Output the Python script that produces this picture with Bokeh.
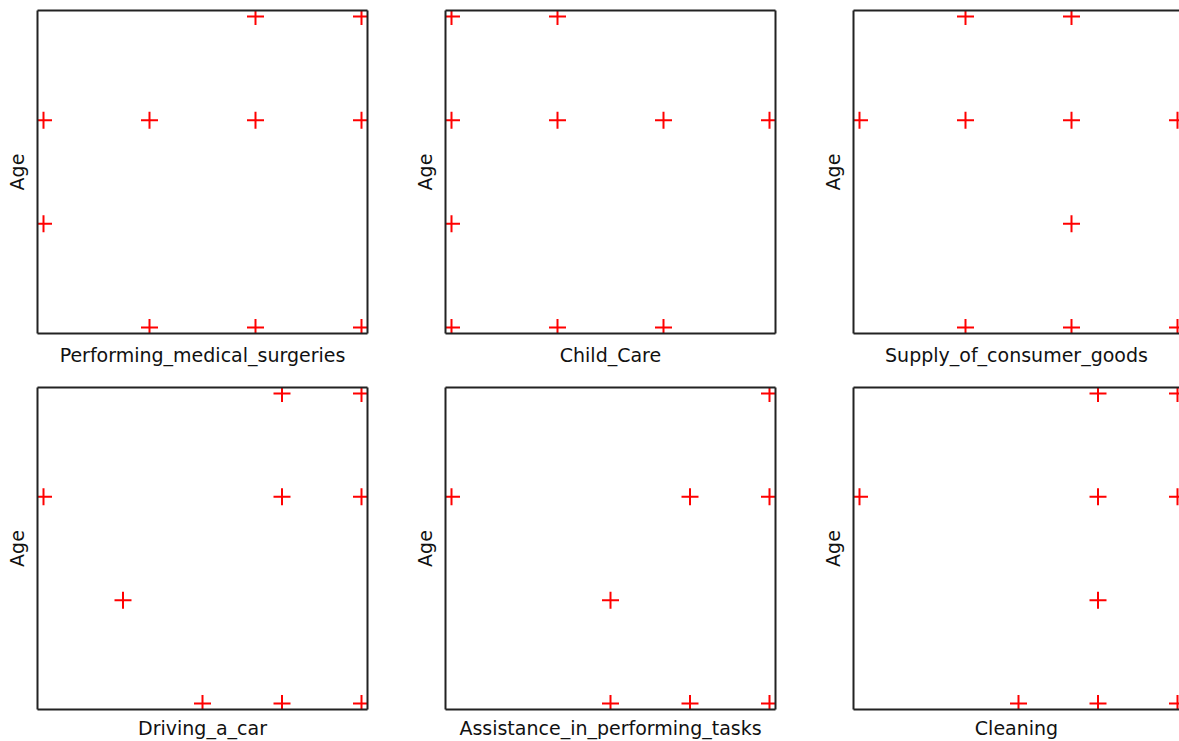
from bokeh.plotting import figure
from bokeh.layouts import gridplot
from bokeh.models import LinearAxis, Range1d
from bokeh.embed import file_html
from bokeh.resources import INLINE

# Response level (x) against age group (y) for each task
labels = [
    "Performing_medical_surgeries",
    "Child_Care",
    "Supply_of_consumer_goods",
    "Driving_a_car",
    "Assistance_in_performing_tasks",
    "Cleaning",
]

surgeries_x = [3, 4, 1, 2, 3, 4, 1, 2, 3, 4]
surgeries_age = [4, 4, 3, 3, 3, 3, 2, 1, 1, 1]

childcare_x = [1, 2, 1, 2, 3, 4, 1, 1, 2, 3]
childcare_age = [4, 4, 3, 3, 3, 3, 2, 1, 1, 1]

supply_x = [2, 3, 1, 2, 3, 4, 3, 2, 3, 4]
supply_age = [4, 4, 3, 3, 3, 3, 2, 1, 1, 1]

driving_x = [4, 5, 1, 4, 5, 2, 3, 4, 5]
driving_age = [4, 4, 3, 3, 3, 2, 1, 1, 1]

assistance_x = [5, 1, 4, 5, 3, 3, 4, 5]
assistance_age = [4, 3, 3, 3, 2, 1, 1, 1]

cleaning_x = [4, 5, 1, 4, 5, 4, 3, 4, 5]
cleaning_age = [4, 4, 3, 3, 3, 2, 1, 1, 1]

series = [
    (surgeries_x, surgeries_age),
    (childcare_x, childcare_age),
    (supply_x, supply_age),
    (driving_x, driving_age),
    (assistance_x, assistance_age),
    (cleaning_x, cleaning_age),
]

FONT = "DejaVu Sans"
FRAME_COLOR = "#222222"
FRAME_W = 330
PAD = 6  # pixels between outermost points and the frame


def padded_range(vals, frame_px, visible_px=None):
    lo, hi = min(vals), max(vals)
    unit = (hi - lo) / (frame_px - 2 * PAD)
    start = lo - PAD * unit
    if visible_px is None:
        visible_px = frame_px
    return Range1d(start, start + visible_px * unit)


def style_edge_axis(ax):
    ax.ticker = []
    ax.major_tick_out = 0
    ax.major_tick_in = 0
    ax.minor_tick_out = 0
    ax.minor_tick_in = 0
    ax.major_label_standoff = 0
    ax.axis_line_color = FRAME_COLOR
    ax.axis_line_width = 2


def make_panel(xs, ys, label, r, c):
    last_col = c == 2
    frame_h = 323
    bottom = 44 if r == 0 else 31
    right = 0 if last_col else 41
    visible_w = 326 if last_col else FRAME_W
    width = 37 + visible_w + right
    height = 10 + frame_h + bottom

    p = figure(
        width=width, height=height,
        x_range=padded_range(xs, FRAME_W, visible_w),
        y_range=padded_range(ys, frame_h),
        min_border_left=37, min_border_right=right,
        min_border_top=10, min_border_bottom=bottom,
        toolbar_location=None, tools="", output_backend="svg",
        outline_line_color=None, background_fill_color="white",
        border_fill_color="white",
    )
    p.grid.visible = False

    for ax in (p.xaxis[0], p.yaxis[0]):
        style_edge_axis(ax)
        ax.axis_label_text_font = FONT
        ax.axis_label_text_font_style = "normal"
        ax.axis_label_text_font_size = "19px"
        ax.axis_label_text_color = "#111111"
    p.xaxis.axis_label = label
    p.xaxis.axis_label_standoff = 10 if r == 0 else 7
    p.yaxis.axis_label = "Age"
    p.yaxis.axis_label_standoff = 10

    top_ax = LinearAxis()
    style_edge_axis(top_ax)
    p.add_layout(top_ax, "above")
    if not last_col:
        right_ax = LinearAxis()
        style_edge_axis(right_ax)
        p.add_layout(right_ax, "right")

    p.scatter(xs, ys, marker="cross", size=17, line_color="red", line_width=2)
    return p


panels = [make_panel(xs, ys, labels[i], i // 3, i % 3) for i, (xs, ys) in enumerate(series)]

grid = gridplot([panels[:3], panels[3:]], toolbar_location=None)

open("out.html", "w").write(file_html(grid, INLINE))
